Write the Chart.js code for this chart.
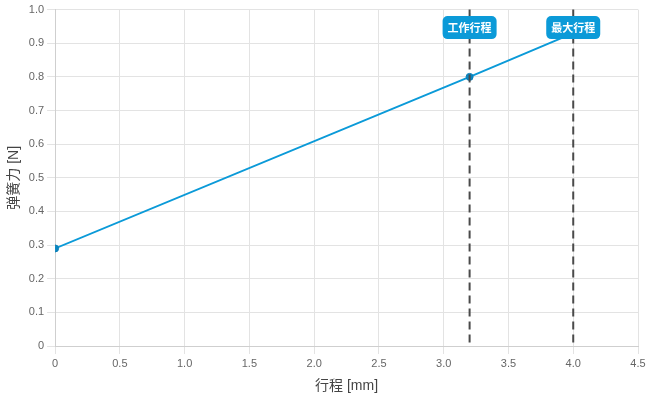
<!DOCTYPE html>
<html>
<head>
<meta charset="utf-8">
<script src="https://cdn.jsdelivr.net/npm/chart.js@4"></script>
<style>
html,body{margin:0;padding:0;background:#fff;}
#wrap{width:650px;height:400px;}
</style>
</head>
<body>
<div id="wrap"><canvas id="c"></canvas></div>
<script>
const strokeX = [0, 3.2, 4.0];
const forceY = [0.29, 0.80, 0.93];
const pointRadii = [3.5, 3.5, 0];
const markerX = [3.2, 4.0];
const markerLabels = ['工作行程', '最大行程'];
const xTicks = [0, 0.5, 1.0, 1.5, 2.0, 2.5, 3.0, 3.5, 4.0, 4.5];
const yTicks = [0, 0.1, 0.2, 0.3, 0.4, 0.5, 0.6, 0.7, 0.8, 0.9, 1.0];

const FONT = '"Liberation Sans", Arial, "Noto Sans CJK SC", sans-serif';
const BLUE = '#0b9ad8';

const markerPlugin = {
  id: 'markers',
  afterDatasetsDraw(chart) {
    const {ctx, chartArea, scales} = chart;
    ctx.save();
    markerX.forEach((mx) => {
      const px = scales.x.getPixelForValue(mx);
      ctx.beginPath();
      ctx.setLineDash([8, 5]);
      ctx.lineWidth = 2;
      ctx.strokeStyle = '#4a4a4a';
      ctx.moveTo(px, chartArea.top);
      ctx.lineTo(px, chartArea.bottom);
      ctx.stroke();
    });
    ctx.setLineDash([]);
    markerX.forEach((mx, i) => {
      const px = scales.x.getPixelForValue(mx);
      const cy = chartArea.top + 18;
      ctx.font = 'bold 11px "Noto Sans CJK SC", sans-serif';
      const w = ctx.measureText(markerLabels[i]).width + 10;
      const h = 23;
      const x0 = px - w / 2, y0 = cy - h / 2, r = 5;
      ctx.beginPath();
      ctx.moveTo(x0 + r, y0);
      ctx.arcTo(x0 + w, y0, x0 + w, y0 + h, r);
      ctx.arcTo(x0 + w, y0 + h, x0, y0 + h, r);
      ctx.arcTo(x0, y0 + h, x0, y0, r);
      ctx.arcTo(x0, y0, x0 + w, y0, r);
      ctx.closePath();
      ctx.fillStyle = BLUE;
      ctx.fill();
      ctx.fillStyle = '#fff';
      ctx.textAlign = 'center';
      ctx.textBaseline = 'middle';
      ctx.fillText(markerLabels[i], px, cy);
    });
    ctx.restore();
  }
};

new Chart(document.getElementById('c'), {
  type: 'scatter',
  data: {
    datasets: [{
      data: strokeX.map((x, i) => ({x, y: forceY[i]})),
      showLine: true,
      borderColor: BLUE,
      backgroundColor: '#0a86c0',
      borderWidth: 2,
      pointRadius: pointRadii,
      pointBorderColor: '#0a7fb8',
      pointBackgroundColor: '#0a86c0',
      pointBorderWidth: 1
    }]
  },
  options: {
    responsive: true,
    maintainAspectRatio: false,
    animation: false,
    layout: {padding: {top: 4, right: 12, left: 2, bottom: 1}},
    plugins: {legend: {display: false}, tooltip: {enabled: false}},
    scales: {
      x: {
        type: 'linear', min: 0, max: 4.5,
        afterBuildTicks: s => { s.ticks = xTicks.map(v => ({value: v})); },
        ticks: {color: '#666', font: {size: 11, family: FONT},
          callback: v => v === 0 ? '0' : v.toFixed(1)},
        grid: {color: '#e3e3e3', tickLength: 8},
        border: {color: '#cfcfcf'},
        title: {display: true, text: '行程 [mm]', color: '#444', font: {size: 14, family: FONT}, padding: {top: 5}}
      },
      y: {
        type: 'linear', min: 0, max: 1.0,
        afterBuildTicks: s => { s.ticks = yTicks.map(v => ({value: v})); },
        ticks: {color: '#666', font: {size: 11, family: FONT},
          callback: v => v === 0 ? '0' : v.toFixed(1)},
        grid: {color: '#e3e3e3', tickLength: 8},
        border: {color: '#cfcfcf'},
        title: {display: true, text: '弹簧力 [N]', color: '#444', font: {size: 14, family: FONT}, padding: {bottom: 3}}
      }
    }
  },
  plugins: [markerPlugin]
});
</script>
</body>
</html>
